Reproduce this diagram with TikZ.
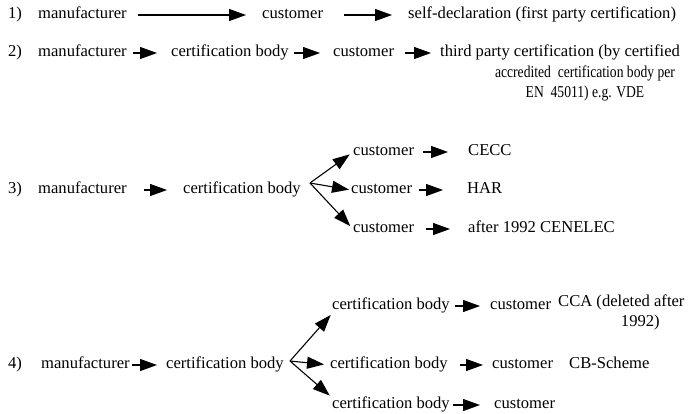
\documentclass[tikz,border=0pt]{standalone}
\usepackage{fontspec}
\setmainfont{Liberation Serif}
\usetikzlibrary{calc,arrows.meta}

\begin{document}
\begin{tikzpicture}[x=1pt,y=-1pt,
    lbl/.style={anchor=west, inner sep=0pt, text height=11pt, text depth=3.5pt, font=\fontsize{16.6}{20}\selectfont},
    note/.style={inner sep=0pt, align=center, font=\fontsize{16.6}{20}\selectfont},
    arr/.style={-{Triangle[length=17pt,width=12pt]}, line width=1.1pt}]
    \useasboundingbox (0,0) rectangle (688,413);

    % row numbers and the manufacturer that starts every row
    \foreach \n/\x/\y in {1/38/15,2/38/53,3/38/190,4/41/365} {
        \node[lbl] (num\n) at (8,\y) {\n)};
        \node[lbl] (man\n) at (\x,\y) {manufacturer};
    }

    % 1) first party
    \node[lbl] (cus1) at (262,15) {customer};
    \node[lbl] (self1) at (408,15) {self-declaration (first party certification)};
    \draw[arr,shorten <=11pt,shorten >=16pt] (man1.east) -- (cus1.west);
    \draw[arr,shorten <=21pt,shorten >=16pt] (cus1.east) -- (self1.west);

    % 2) third party, text runs over three lines (narrower set)
    \node[lbl] (cb2) at (171,53) {certification body};
    \node[lbl] (cus2) at (333,53) {customer};
    \node[lbl] (third2) at (440,53) {third party certification (by certified};
    \node[note,anchor=north,font=\fontsize{16.6}{20}\selectfont\addfontfeature{FakeStretch=0.82}] (third2b) at (585,66)
        {accredited\ \ certification body per\\EN\ \ 45011) e.g. VDE};
    \draw[arr,shorten <=6pt,shorten >=14pt] (man2.east) -- (cb2.west);
    \draw[arr,shorten <=5pt,shorten >=13pt] (cb2.east) -- (cus2.west);
    \draw[arr,shorten <=11pt,shorten >=9pt] (cus2.east) -- (third2.west);

    % 3) one certification body, three customers
    \node[lbl] (cb3) at (183,190) {certification body};
    \coordinate (fan3) at (310,183);
    \node[lbl] (cus3a) at (353,152) {customer};
    \node[lbl] (cus3b) at (351,190) {customer};
    \node[lbl] (cus3c) at (353,229) {customer};
    \node[lbl] (cecc) at (468,152) {CECC};
    \node[lbl] (har) at (467,190) {HAR};
    \node[lbl] (cenelec) at (468,229) {after 1992 CENELEC};
    \draw[arr,shorten <=17pt,shorten >=16pt] (man3.east) -- (cb3.west);
    \draw[arr,shorten >=4pt] (fan3) -- (cus3a.west);
    \draw[arr,shorten >=2pt] (fan3) -- (cus3b.west);
    \draw[arr,shorten >=4pt] (fan3) -- (cus3c.west);
    \draw[arr,shorten <=9pt,shorten >=20pt] (cus3a.east) -- (cecc.west);
    \draw[arr,shorten <=7pt,shorten >=24pt] (cus3b.east) -- (har.west);
    \draw[arr,shorten <=12pt,shorten >=18pt] (cus3c.east) -- (cenelec.west);

    % 4) certification body hands over to three more bodies
    \node[lbl] (cb4) at (166,365) {certification body};
    \coordinate (fan4) at (290,361);
    \node[lbl] (cb4a) at (332,306) {certification body};
    \node[lbl] (cb4b) at (330,365) {certification body};
    \node[lbl] (cb4c) at (332,405) {certification body};
    \node[lbl] (cus4a) at (490,306) {customer};
    \node[lbl] (cus4b) at (492,365) {customer};
    \node[lbl] (cus4c) at (494,405) {customer};
    \node[note,anchor=north west] (cca) at (558,295) {CCA (deleted after\\\hspace*{38pt}1992)};
    \node[lbl] (cbs) at (569,365) {CB-Scheme};
    \draw[arr,shorten <=2pt,shorten >=9pt] (man4.east) -- (cb4.west);
    \draw[arr,shorten >=2pt] (fan4) -- (cb4a.south west);
    \draw[arr,shorten >=6pt] (fan4) -- (cb4b.west);
    \draw[arr,shorten >=3pt] (fan4) -- (cb4c.north west);
    \draw[arr,shorten <=5pt,shorten >=10pt] (cb4a.east) -- (cus4a.west);
    \draw[arr,shorten <=12pt,shorten >=9pt] (cb4b.east) -- (cus4b.west);
    \draw[arr,shorten <=3pt,shorten >=14pt] (cb4c.east) -- (cus4c.west);
\end{tikzpicture}
\end{document}
